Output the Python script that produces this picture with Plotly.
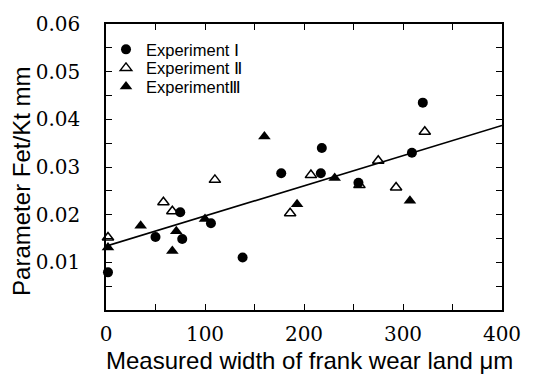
import plotly.graph_objects as go

# Experiment I (filled circles)
exp1_x = [2, 50, 75, 77, 106, 138, 177, 217, 218, 255, 309, 320]
exp1_y = [0.0079, 0.0153, 0.0205, 0.0149, 0.0182, 0.0110, 0.0287, 0.0287, 0.0340, 0.0267, 0.0330, 0.0435]

# Experiment II (open triangles)
exp2_x = [2, 58, 67, 110, 186, 207, 256, 275, 293, 322]
exp2_y = [0.0152, 0.0226, 0.0207, 0.0273, 0.0203, 0.0283, 0.0262, 0.0313, 0.0257, 0.0374]

# Experiment III (filled triangles)
exp3_x = [2, 35, 67, 71, 100, 160, 193, 231, 307]
exp3_y = [0.0131, 0.0177, 0.0124, 0.0165, 0.0191, 0.0364, 0.0222, 0.0277, 0.0229]

# regression line
line_x = [0, 400]
line_y = [0.0134, 0.0387]

x_ticks = [0, 100, 200, 300, 400]
y_ticks = [0.01, 0.02, 0.03, 0.04, 0.05, 0.06]
y_tick_text = ["0.01", "0.02", "0.03", "0.04", "0.05", "0.06"]

names = ["Experiment Ⅰ", "Experiment Ⅱ", "ExperimentⅢ"]
x_title = "Measured width of frank wear land μm"
y_title = "Parameter Fet/Kt mm"

SERIF = "DejaVu Serif"
SANS = "Liberation Sans, Arial, sans-serif"

fig = go.Figure()
fig.add_trace(go.Scatter(x=line_x, y=line_y, mode="lines",
                         line=dict(color="black", width=1.6), showlegend=False))
fig.add_trace(go.Scatter(x=exp1_x, y=exp1_y, mode="markers", name=names[0],
                         marker=dict(symbol="circle", size=10, color="black"),
                         cliponaxis=False, legend="legend"))
fig.add_trace(go.Scatter(x=exp2_x, y=exp2_y, mode="markers", name=names[1],
                         marker=dict(symbol="triangle-up-open", size=10, color="black",
                                     line=dict(width=1.5)),
                         cliponaxis=False, legend="legend2"))
fig.add_trace(go.Scatter(x=exp3_x, y=exp3_y, mode="markers", name=names[2],
                         marker=dict(symbol="triangle-up", size=11, color="black"),
                         cliponaxis=False, legend="legend3"))

legfont = dict(family=SANS, size=16.5, color="black")
def leg(ypx):
    return dict(x=0.0, y=1 - (ypx - 20) / 290, xanchor="left", yanchor="middle",
                font=legfont, bgcolor="rgba(0,0,0,0)", borderwidth=0)

fig.update_layout(
    width=533, height=374,
    margin=dict(l=106, r=21, t=20, b=64),
    plot_bgcolor="white", paper_bgcolor="white",
    legend=leg(46),
    legend2=leg(64.8),
    legend3=leg(83.6),
    annotations=[
        dict(text=x_title, xref="paper", yref="paper", x=(315 - 106) / 406, y=-(361 - 310) / 290,
             xanchor="center", yanchor="middle", showarrow=False,
             font=dict(family=SANS, size=24, color="black")),
        dict(text=y_title, xref="paper", yref="paper", x=-(106 - 20) / 406, y=1 - (180 - 20) / 290,
             xanchor="center", yanchor="middle", showarrow=False, textangle=-90,
             font=dict(family=SANS, size=24, color="black")),
    ],
)

fig.update_xaxes(
    range=[0, 400], tickvals=x_ticks, ticktext=[str(v) for v in x_ticks],
    showline=True, linecolor="black", linewidth=1.6, mirror="ticks",
    ticks="inside", ticklen=6, tickwidth=1.3, tickcolor="black",
    minor=dict(dtick=50, ticks="inside", ticklen=6, tickwidth=1.3, tickcolor="black"),
    showgrid=False, zeroline=False,
    tickfont=dict(family=SERIF, size=20, color="black"),
    ticklabelstandoff=5,
)
fig.update_yaxes(
    range=[0, 0.06], tickvals=y_ticks, ticktext=y_tick_text,
    showline=True, linecolor="black", linewidth=1.6, mirror="ticks",
    ticks="inside", ticklen=6, tickwidth=1.3, tickcolor="black",
    minor=dict(dtick=0.005, ticks="inside", ticklen=6, tickwidth=1.3, tickcolor="black"),
    showgrid=False, zeroline=False,
    tickfont=dict(family=SERIF, size=20, color="black"),
    ticklabelstandoff=20,
)

fig.write_html("out.html")
